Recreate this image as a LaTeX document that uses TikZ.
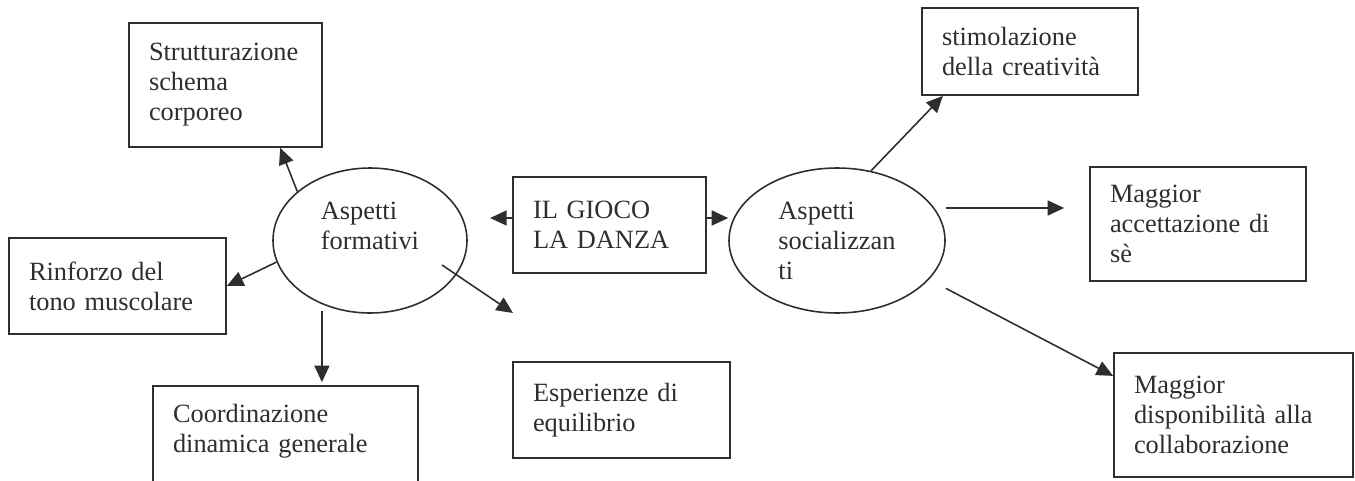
\documentclass[tikz,border=0pt]{standalone}
\usepackage{fontspec}
\setmainfont{Liberation Serif}
\usetikzlibrary{shapes,arrows.meta}
\definecolor{ink}{HTML}{2E2E2E}
\tikzstyle{bx}=[rectangle,draw=ink,line width=1pt,text=ink,align=left,inner xsep=0.4cm,inner ysep=0pt,font=\fontsize{15}{17.07}\selectfont]
\tikzstyle{ov}=[ellipse,draw=ink,line width=0.9pt,text=ink,align=left,inner sep=0pt,font=\fontsize{15}{17.07}\selectfont]
\tikzstyle{ar}=[draw=ink,line width=0.9pt,-{Triangle[length=0.33cm,width=0.3cm]}]

\begin{document}
\begin{tikzpicture}
\useasboundingbox (0, 0) rectangle (27.1, 9.6);

\node (gioco) at (12.19, 5.10) [bx, text width=3.06cm, minimum height=1.92cm] {IL GIOCO\\LA DANZA};

\node (form) at (7.40, 4.79) [ov, minimum width=3.88cm, minimum height=2.90cm] {Aspetti\\formativi\\\mbox{}};
\node (soc) at (16.74, 4.79) [ov, minimum width=4.32cm, minimum height=2.90cm] {Aspetti\\socializzan\\ti};

\node (strutt) at (4.51, 7.90) [bx, text width=3.06cm, minimum height=2.48cm] {Strutturazione\\schema\\corporeo};
\node (rinf) at (2.35, 3.88) [bx, text width=3.54cm, minimum height=1.92cm] {Rinforzo del\\tono muscolare};
\node (coord) at (5.71, 0.43) [bx, text width=4.50cm, minimum height=2.90cm] {Coordinazione\\dinamica generale\\\mbox{}\\\mbox{}};
\node (esper) at (12.43, 1.40) [bx, text width=3.54cm, minimum height=1.92cm] {Esperienze di\\equilibrio};

\node (stim) at (20.60, 8.57) [bx, text width=3.52cm, minimum height=1.74cm] {stimolazione\\della creatività};
\node (acc) at (23.96, 5.12) [bx, text width=3.52cm, minimum height=2.28cm] {Maggior\\accettazione di\\sè};
\node (disp) at (24.67, 1.30) [bx, text width=3.98cm, minimum height=2.48cm] {Maggior\\disponibilità alla\\collaborazione};

% lato formativo
\draw (form.146)--(strutt.-49) [ar];
\draw (form.193)--(rinf.east) [ar];
\draw (form.233)--(form.233 |- coord.north) [ar, shorten <=0.13cm, shorten >=0.06cm];
\coordinate (fOut) at (8.84, 4.30);
\coordinate (fTip) at (10.26, 3.34);
\draw (fOut)--(fTip) [ar];

% centro
\draw ([yshift=0.14cm]gioco.west)--++(-0.44, 0) [ar];
\draw ([yshift=0.14cm]gioco.east)--([yshift=0.14cm]gioco.east -| soc.west) [ar];

% lato sociale
\draw (soc.64)--(stim.207) [ar];
\coordinate (aIn) at ([xshift=-0.5cm, yshift=0.32cm]acc.west);
\draw (soc.east |- aIn)--(aIn) [ar];
\draw (soc.-23)--(disp.162) [ar, shorten <=0.38cm];

\end{tikzpicture}
\end{document}
